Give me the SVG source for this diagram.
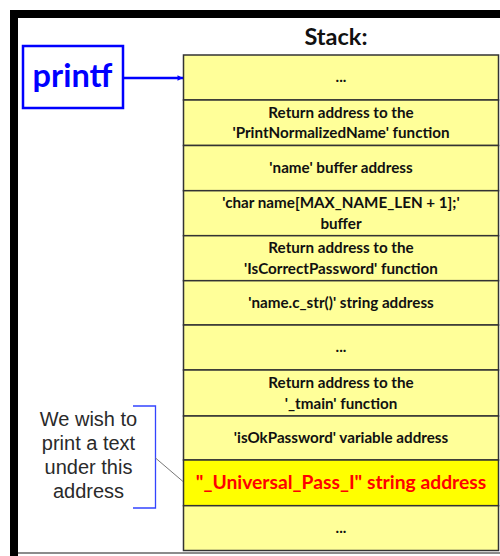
<svg xmlns="http://www.w3.org/2000/svg" width="500" height="556" viewBox="0 0 500 556">
<defs>
<style>
.cell{fill:#FFFF99;stroke:#333;stroke-width:1.5}
.hot{fill:#FFFF00;stroke:#333;stroke-width:1.5}
.t{font-family:Lato,"Liberation Sans",sans-serif;font-weight:bold;font-size:15.2px;fill:#111;text-anchor:middle}
.red{font-family:Lato,"Liberation Sans",sans-serif;font-weight:bold;font-size:19.3px;fill:#FF0000;text-anchor:middle}
.note{font-family:"Liberation Sans",Arial,sans-serif;font-size:20px;fill:#2a2a2a;text-anchor:middle}
</style>
<marker id="ah" viewBox="0 0 10 10" refX="10" refY="5" markerWidth="10" markerHeight="5.5" markerUnits="userSpaceOnUse" orient="auto">
<path d="M0,0 L10,5 L0,10 z" fill="#0000FF"/>
</marker>
</defs>
<rect x="0" y="0" width="500" height="556" fill="#fff"/>
<!-- frame -->
<rect x="10" y="10" width="490" height="8" fill="#000"/>
<rect x="10" y="10" width="8" height="546" fill="#000"/>
<line x1="18" y1="553" x2="500" y2="553" stroke="#666" stroke-width="1.5"/>
<text x="336" y="44.5" font-family="Lato,'Liberation Sans',sans-serif" font-weight="bold" font-size="23.5" fill="#111" text-anchor="middle">Stack:</text>

<g id="printf">
<rect x="23" y="46" width="100" height="62" fill="#fff" stroke="#0000FF" stroke-width="2.5"/>
<text x="72.5" y="87" font-family="Lato,'Liberation Sans',sans-serif" font-weight="bold" font-size="32.5" fill="#0000FF" text-anchor="middle">printf</text>
</g>

<g id="stack">
<g id="row1"><rect class="cell" x="183.5" y="55" width="315" height="45"/><text class="t" x="341" y="82">...</text></g>
<g id="row2"><rect class="cell" x="183.5" y="100" width="315" height="45.5"/><text class="t" x="341" y="117.5">Return address to the</text><text class="t" x="341" y="138">'PrintNormalizedName' function</text></g>
<g id="row3"><rect class="cell" x="183.5" y="145.5" width="315" height="45.2"/><text class="t" x="341" y="173">'name' buffer address</text></g>
<g id="row4"><rect class="cell" x="183.5" y="190.7" width="315" height="45"/><text class="t" x="341" y="208">'char name[MAX_NAME_LEN + 1];'</text><text class="t" x="341" y="228.5">buffer</text></g>
<g id="row5"><rect class="cell" x="183.5" y="235.7" width="315" height="45"/><text class="t" x="341" y="253">Return address to the</text><text class="t" x="341" y="273.5">'IsCorrectPassword' function</text></g>
<g id="row6"><rect class="cell" x="183.5" y="280.7" width="315" height="44.3"/><text class="t" x="341" y="308">'name.c_str()' string address</text></g>
<g id="row7"><rect class="cell" x="183.5" y="325" width="315" height="45"/><text class="t" x="341" y="352">...</text></g>
<g id="row8"><rect class="cell" x="183.5" y="370" width="315" height="46"/><text class="t" x="341" y="388">Return address to the</text><text class="t" x="341" y="408.5">'_tmain' function</text></g>
<g id="row9"><rect class="cell" x="183.5" y="416" width="315" height="44"/><text class="t" x="341" y="443">'isOkPassword' variable address</text></g>
<g id="row10"><rect class="hot" x="183.5" y="460" width="315" height="45.7"/><text class="red" x="341" y="489">"_Universal_Pass_I" string address</text></g>
<g id="row11"><rect class="cell" x="183.5" y="505.7" width="315" height="44.8"/><text class="t" x="341" y="533">...</text></g>
</g>

<g id="note">
<text class="note" x="88.5" y="426">We wish to</text>
<text class="note" x="88.5" y="450">print a text</text>
<text class="note" x="88.5" y="474">under this</text>
<text class="note" x="88.5" y="498">address</text>
</g>

<g id="connectors">
<line x1="123" y1="78" x2="183" y2="78" stroke="#0000FF" stroke-width="2.5" marker-end="url(#ah)"/>
<path d="M133,406 H155.5 V508 H133" fill="none" stroke="#3344ff" stroke-width="1.3"/>
<line x1="155.5" y1="458" x2="183" y2="481.5" stroke="#777" stroke-width="1"/>
</g>
</svg>
